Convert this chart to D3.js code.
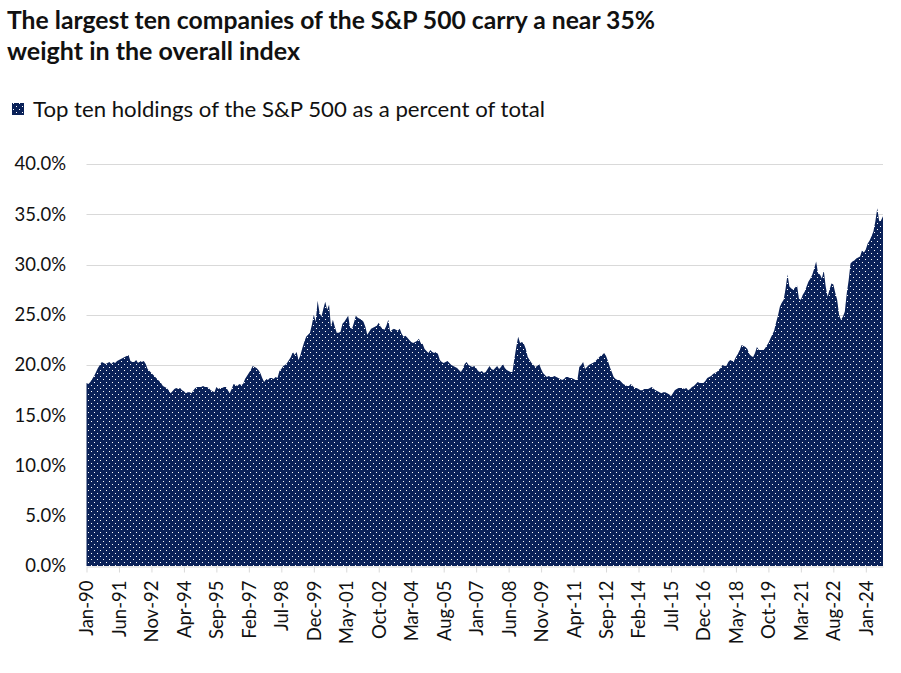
<!DOCTYPE html>
<html>
<head>
<meta charset="utf-8">
<script src="https://cdn.jsdelivr.net/npm/d3@7"></script>
<style>
  body { margin: 0; background: #fff; }
  svg { display: block; }
  text { font-family: Lato, "Open Sans", sans-serif; fill: #111; }
</style>
</head>
<body>
<svg id="chart" width="901" height="673"></svg>
<script>
// ---- DATA (monthly, Jan-1990 .. Oct-2024, % of total) ----
const startYear = 1990;
const monthNames = ["Jan","Feb","Mar","Apr","May","Jun","Jul","Aug","Sep","Oct","Nov","Dec"];
const values = [
  // 1990
  18.2, 18.1, 18.3, 18.6, 18.9, 19.3, 19.7, 20.0, 20.3, 20.2, 20.1, 20.2,
  // 1991
  20.3, 20.1, 20.3, 20.2, 20.4, 20.5, 20.6, 20.7, 20.8, 20.9, 21.0, 20.4,
  // 1992
  20.3, 20.3, 20.5, 20.2, 20.4, 20.3, 20.4, 20.1, 19.6, 19.4, 19.2, 19.0,
  // 1993
  18.8, 18.6, 18.4, 18.2, 17.9, 17.8, 17.7, 17.5, 17.2, 17.4, 17.6, 17.7,
  // 1994
  17.6, 17.7, 17.5, 17.4, 17.2, 17.3, 17.3, 17.2, 17.5, 17.7, 17.8, 17.8,
  // 1995
  17.8, 17.9, 17.8, 17.8, 17.7, 17.5, 17.4, 17.3, 17.8, 17.6, 17.7, 17.7,
  // 1996
  17.8, 17.8, 17.5, 17.2, 17.6, 18.1, 18.0, 17.9, 18.1, 18.0, 18.1, 18.6,
  // 1997
  18.9, 19.2, 19.5, 19.9, 19.8, 19.7, 19.5, 19.2, 18.7, 18.3, 18.6, 18.5,
  // 1998
  18.7, 18.7, 18.6, 18.8, 18.7, 19.4, 19.6, 19.9, 20.0, 20.2, 20.5, 20.8,
  // 1999
  21.3, 21.0, 21.3, 20.5, 21.0, 21.7, 22.3, 22.8, 23.0, 23.2, 24.0, 25.0,
  // 2000
  24.3, 26.4, 25.2, 24.8, 25.6, 26.3, 25.5, 26.0, 23.8, 24.5, 23.8, 23.2,
  // 2001
  23.2, 23.3, 24.1, 24.3, 24.6, 24.9, 23.7, 23.6, 24.2, 24.9, 24.7, 24.6,
  // 2002
  24.5, 24.3, 23.8, 23.0, 23.3, 23.6, 23.7, 23.8, 23.9, 24.2, 23.8, 23.6,
  // 2003
  23.5, 23.9, 24.5, 23.3, 23.5, 23.6, 23.5, 23.4, 23.6, 23.1, 22.8, 22.9,
  // 2004
  22.7, 22.5, 22.3, 22.2, 22.3, 22.4, 22.6, 22.2, 22.1, 21.6, 21.4, 21.2,
  // 2005
  21.5, 21.3, 21.2, 21.3, 21.1, 20.5, 20.3, 20.2, 20.3, 20.4, 20.2, 20.0,
  // 2006
  19.9, 19.8, 19.7, 19.5, 19.3, 19.6, 20.1, 20.3, 20.0, 19.9, 19.8, 19.9,
  // 2007
  19.7, 19.4, 19.3, 19.4, 19.2, 19.3, 19.6, 19.9, 19.6, 19.5, 19.7, 19.9,
  // 2008
  19.6, 19.8, 20.1, 19.7, 19.5, 19.4, 19.3, 19.3, 20.6, 21.8, 22.8, 22.2,
  // 2009
  22.3, 22.1, 21.6, 20.8, 20.5, 20.2, 20.0, 19.8, 19.9, 20.1, 19.6, 19.2,
  // 2010
  19.0, 18.8, 18.9, 18.8, 18.8, 18.9, 18.8, 18.7, 18.6, 18.5, 18.6, 18.8,
  // 2011
  18.8, 18.7, 18.7, 18.6, 18.5, 18.5, 19.8, 20.0, 20.3, 19.6, 19.8, 20.0,
  // 2012
  20.1, 20.2, 20.3, 20.5, 20.7, 20.9, 21.0, 21.2, 20.9, 20.4, 19.8, 19.3,
  // 2013
  18.8, 18.6, 18.5, 18.5, 18.3, 18.1, 18.0, 17.9, 17.9, 18.1, 17.9, 17.7,
  // 2014
  17.7, 17.6, 17.5, 17.5, 17.6, 17.6, 17.6, 17.7, 17.8, 17.6, 17.5, 17.4,
  // 2015
  17.3, 17.2, 17.3, 17.3, 17.2, 17.1, 16.9, 17.2, 17.5, 17.6, 17.7, 17.7,
  // 2016
  17.7, 17.6, 17.7, 17.5, 17.6, 17.8, 17.9, 18.1, 18.3, 18.2, 18.2, 18.2,
  // 2017
  18.4, 18.7, 18.8, 18.9, 19.1, 19.2, 19.3, 19.5, 19.7, 20.0, 19.9, 19.9,
  // 2018
  20.3, 20.5, 20.4, 20.4, 20.8, 21.1, 21.5, 22.0, 21.9, 21.8, 21.6, 21.1,
  // 2019
  20.9, 20.8, 21.2, 21.8, 21.5, 21.5, 21.5, 21.6, 21.9, 22.2, 22.6, 23.0,
  // 2020
  23.4, 24.2, 24.9, 25.8, 26.2, 26.5, 27.6, 29.0, 27.8, 27.6, 27.5, 27.7,
  // 2021
  27.9, 26.6, 26.5, 27.0, 27.3, 27.8, 28.3, 28.6, 29.0, 29.6, 30.3, 29.1,
  // 2022
  29.0, 28.6, 29.4, 27.8, 26.8, 27.5, 28.1, 28.0, 27.2, 26.5, 25.0, 24.5,
  // 2023
  24.8, 25.3, 27.1, 28.4, 30.1, 30.3, 30.4, 30.6, 30.7, 30.8, 31.4, 31.2,
  // 2024
  31.5, 32.1, 32.4, 32.8, 33.3, 34.3, 35.6, 34.3, 34.4, 34.8
];
const categories = values.map((v, i) =>
  monthNames[i % 12] + "-" + String((startYear + Math.floor(i / 12)) % 100).padStart(2, "0"));
const tickLabels = ["Jan-90","Jun-91","Nov-92","Apr-94","Sep-95","Feb-97","Jul-98","Dec-99",
  "May-01","Oct-02","Mar-04","Aug-05","Jan-07","Jun-08","Nov-09","Apr-11","Sep-12","Feb-14",
  "Jul-15","Dec-16","May-18","Oct-19","Mar-21","Aug-22","Jan-24"];
const yTicks = [0, 5, 10, 15, 20, 25, 30, 35, 40];
const titleLines = ["The largest ten companies of the S&P 500 carry a near 35%", "weight in the overall index"];
const legendLabel = "Top ten holdings of the S&P 500 as a percent of total";

// ---- LAYOUT ----
const svg = d3.select("#chart");
const plotLeft = 86.5, plotRight = 883, plotTop = 164, plotBottom = 566;
const navy = "#0a2158";

const x = d3.scalePoint().domain(categories).range([plotLeft, plotRight]);
const y = d3.scaleLinear().domain([0, 40]).range([plotBottom, plotTop]);

// pattern
const defs = svg.append("defs");
const pat = defs.append("pattern").attr("id", "dots")
  .attr("patternUnits", "userSpaceOnUse").attr("width", 6).attr("height", 6);
pat.append("rect").attr("width", 6).attr("height", 6).attr("fill", navy);
pat.append("rect").attr("x", 1).attr("y", 1).attr("width", 1).attr("height", 1).attr("fill", "#fff");
pat.append("rect").attr("x", 4).attr("y", 4).attr("width", 1).attr("height", 1).attr("fill", "#fff");

// title
svg.append("text").attr("x", 7).attr("y", 29)
  .attr("font-size", 24).attr("font-weight", 700)
  .attr("textLength", 648).attr("lengthAdjust", "spacingAndGlyphs")
  .text(titleLines[0]);
svg.append("text").attr("x", 7).attr("y", 60)
  .attr("font-size", 24).attr("font-weight", 700)
  .attr("textLength", 293).attr("lengthAdjust", "spacingAndGlyphs")
  .text(titleLines[1]);

// legend
svg.append("rect").attr("x", 12).attr("y", 103).attr("width", 12).attr("height", 12)
  .attr("fill", "url(#dots)");
svg.append("text").attr("x", 33).attr("y", 117).attr("font-size", 20.5)
  .attr("textLength", 512).attr("lengthAdjust", "spacingAndGlyphs")
  .text(legendLabel);

// gridlines
svg.append("g").selectAll("line").data(yTicks.filter(d => d > 0)).join("line")
  .attr("x1", plotLeft).attr("x2", plotRight)
  .attr("y1", d => Math.round(y(d)) + 0.5).attr("y2", d => Math.round(y(d)) + 0.5)
  .attr("stroke", "#d9d9d9").attr("stroke-width", 1);

// y labels
svg.append("g").selectAll("text").data(yTicks).join("text")
  .attr("x", 66).attr("y", d => y(d)).attr("dy", "0.35em")
  .attr("text-anchor", "end").attr("font-size", 18.5)
  .text(d => d.toFixed(1) + "%");

// area
const area = d3.area()
  .x((d, i) => x(categories[i]))
  .y0(y(0)).y1(d => y(d));
svg.append("path").datum(values).attr("d", area).attr("fill", "url(#dots)");

// x axis
const xAxis = d3.axisBottom(x).tickValues(tickLabels).tickSize(6).tickSizeOuter(0).tickPadding(4);
const gx = svg.append("g").attr("transform", `translate(0,${plotBottom + 0.5})`).call(xAxis);
gx.select(".domain").attr("stroke", "#d9d9d9");
gx.selectAll(".tick line").attr("stroke", "#d9d9d9");
gx.selectAll(".tick text")
  .attr("font-family", "Lato, sans-serif").attr("font-size", 18.5).attr("fill", "#111")
  .attr("transform", "rotate(-90)")
  .attr("text-anchor", "end")
  .attr("x", -14).attr("y", 0).attr("dy", "0.35em");
</script>
</body>
</html>
